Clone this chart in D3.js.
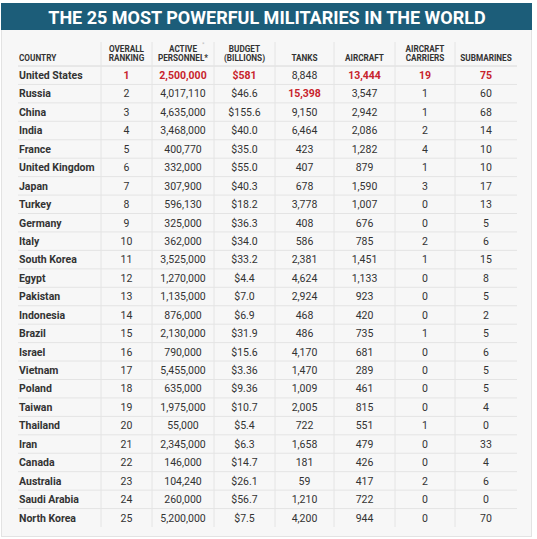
<!DOCTYPE html>
<html>
<head>
  <title>The 25 Most Powerful Militaries</title>
  <script src="https://d3js.org/d3.v7.min.js"></script>
  <style>
    body { margin: 0; background: #fff; font-family: Roboto, "Open Sans", sans-serif; }
    .cell { fill: #333; font-size: 10.5px; }
    .country { font-weight: 700; }
    .head { fill: #333; font-size: 8.2px; font-weight: 700; }
    .hi { fill: #c8232c; font-weight: 700; }
  </style>
</head>
<body>
  <script>
    // table data
    var countries = ["United States", "Russia", "China", "India", "France", "United Kingdom", "Japan",
      "Turkey", "Germany", "Italy", "South Korea", "Egypt", "Pakistan", "Indonesia", "Brazil", "Israel",
      "Vietnam", "Poland", "Taiwan", "Thailand", "Iran", "Canada", "Australia", "Saudi Arabia", "North Korea"];
    var ranking = ["1", "2", "3", "4", "5", "6", "7", "8", "9", "10", "11", "12", "13", "14", "15", "16",
      "17", "18", "19", "20", "21", "22", "23", "24", "25"];
    var personnel = ["2,500,000", "4,017,110", "4,635,000", "3,468,000", "400,770", "332,000", "307,900",
      "596,130", "325,000", "362,000", "3,525,000", "1,270,000", "1,135,000", "876,000", "2,130,000",
      "790,000", "5,455,000", "635,000", "1,975,000", "55,000", "2,345,000", "146,000", "104,240",
      "260,000", "5,200,000"];
    var budget = ["$581", "$46.6", "$155.6", "$40.0", "$35.0", "$55.0", "$40.3", "$18.2", "$36.3", "$34.0",
      "$33.2", "$4.4", "$7.0", "$6.9", "$31.9", "$15.6", "$3.36", "$9.36", "$10.7", "$5.4", "$6.3",
      "$14.7", "$26.1", "$56.7", "$7.5"];
    var tanks = ["8,848", "15,398", "9,150", "6,464", "423", "407", "678", "3,778", "408", "586", "2,381",
      "4,624", "2,924", "468", "486", "4,170", "1,470", "1,009", "2,005", "722", "1,658", "181", "59",
      "1,210", "4,200"];
    var aircraft = ["13,444", "3,547", "2,942", "2,086", "1,282", "879", "1,590", "1,007", "676", "785",
      "1,451", "1,133", "923", "420", "735", "681", "289", "461", "815", "551", "479", "426", "417",
      "722", "944"];
    var carriers = ["19", "1", "1", "2", "4", "1", "3", "0", "0", "2", "1", "0", "0", "0", "1", "0", "0",
      "0", "0", "1", "0", "0", "2", "0", "0"];
    var submarines = ["75", "60", "68", "14", "10", "10", "17", "13", "5", "6", "15", "8", "5", "2", "5",
      "6", "5", "5", "4", "0", "33", "4", "6", "0", "70"];

    var headers = [["COUNTRY"], ["OVERALL", "RANKING"], ["ACTIVE", "PERSONNEL*"], ["BUDGET", "(BILLIONS)"],
      ["TANKS"], ["AIRCRAFT"], ["AIRCRAFT", "CARRIERS"], ["SUBMARINES"]];
    // highlighted cells: [row, column]
    var highlights = [[0, 1], [0, 2], [0, 3], [0, 5], [0, 6], [0, 7], [1, 4]];

    var columns = [countries, ranking, personnel, budget, tanks, aircraft, carriers, submarines];

    var W = 537, H = 539;
    var edges = [18, 101, 152, 214, 275, 334, 395, 455, 517];

    var svg = d3.select("body").append("svg")
      .attr("width", W).attr("height", H);

    // panel + title bar
    svg.append("rect").attr("x", 1.5).attr("y", 3.5).attr("width", 530).attr("height", 533)
      .attr("fill", "#f7f7f7").attr("stroke", "#e3e3e3");
    svg.append("rect").attr("x", 1).attr("y", 3).attr("width", 531).attr("height", 27)
      .attr("fill", "#1c5d79");
    svg.append("text")
      .attr("x", 267).attr("y", 24)
      .attr("text-anchor", "middle")
      .attr("fill", "#fff")
      .style("font-size", "18px").style("font-weight", "700")
      .text("THE 25 MOST POWERFUL MILITARIES IN THE WORLD");

    // scales
    var y = d3.scaleBand().domain(d3.range(countries.length)).range([66, 527]);
    var colLeft = d3.scaleOrdinal().domain(d3.range(columns.length)).range(edges.slice(0, -1));
    var colRight = d3.scaleOrdinal().domain(d3.range(columns.length)).range(edges.slice(1));
    function colX(c) {
      return c === 0 ? colLeft(c) + 1 : (colLeft(c) + colRight(c)) / 2;
    }

    // grid lines
    svg.append("g").selectAll("line")
      .data(d3.range(countries.length - 1))
      .join("line")
      .attr("x1", edges[0]).attr("x2", edges[edges.length - 1])
      .attr("y1", function(d) { return y(d) + y.bandwidth(); })
      .attr("y2", function(d) { return y(d) + y.bandwidth(); })
      .attr("stroke", "#e4e4e4");
    svg.append("line")
      .attr("x1", edges[0]).attr("x2", edges[edges.length - 1])
      .attr("y1", y(0)).attr("y2", y(0))
      .attr("stroke", "#d8d8d8");
    svg.append("g").selectAll("line")
      .data(d3.range(1, columns.length))
      .join("line")
      .attr("x1", function(d) { return colLeft(d); }).attr("x2", function(d) { return colLeft(d); })
      .attr("y1", 42).attr("y2", 527)
      .attr("stroke", "#e4e4e4");

    // headers
    var hg = svg.append("g");
    headers.forEach(function(h, c) {
      var t = hg.append("text")
        .attr("class", "head")
        .attr("x", colX(c))
        .attr("text-anchor", c === 0 ? "start" : "middle");
      h.forEach(function(line, i) {
        t.append("tspan")
          .attr("x", colX(c))
          .attr("y", 61 - (h.length - 1 - i) * 9)
          .text(line);
      });
    });
    // little mark after ACTIVE
    hg.append("text").attr("x", colX(2) + 19).attr("y", 46)
      .attr("fill", "#bbb").style("font-size", "6px").text("*");

    // cells
    var isHi = {};
    highlights.forEach(function(h) { isHi[h[0] + "_" + h[1]] = true; });

    columns.forEach(function(col, c) {
      svg.append("g").selectAll("text")
        .data(col)
        .join("text")
        .attr("class", function(d, r) {
          return "cell" + (c === 0 ? " country" : "") + (isHi[r + "_" + c] ? " hi" : "");
        })
        .attr("x", colX(c))
        .attr("y", function(d, r) { return y(r) + y.bandwidth() / 2; })
        .attr("dy", "0.36em")
        .attr("text-anchor", c === 0 ? "start" : "middle")
        .text(function(d) { return d; });
    });
  </script>
</body>
</html>
